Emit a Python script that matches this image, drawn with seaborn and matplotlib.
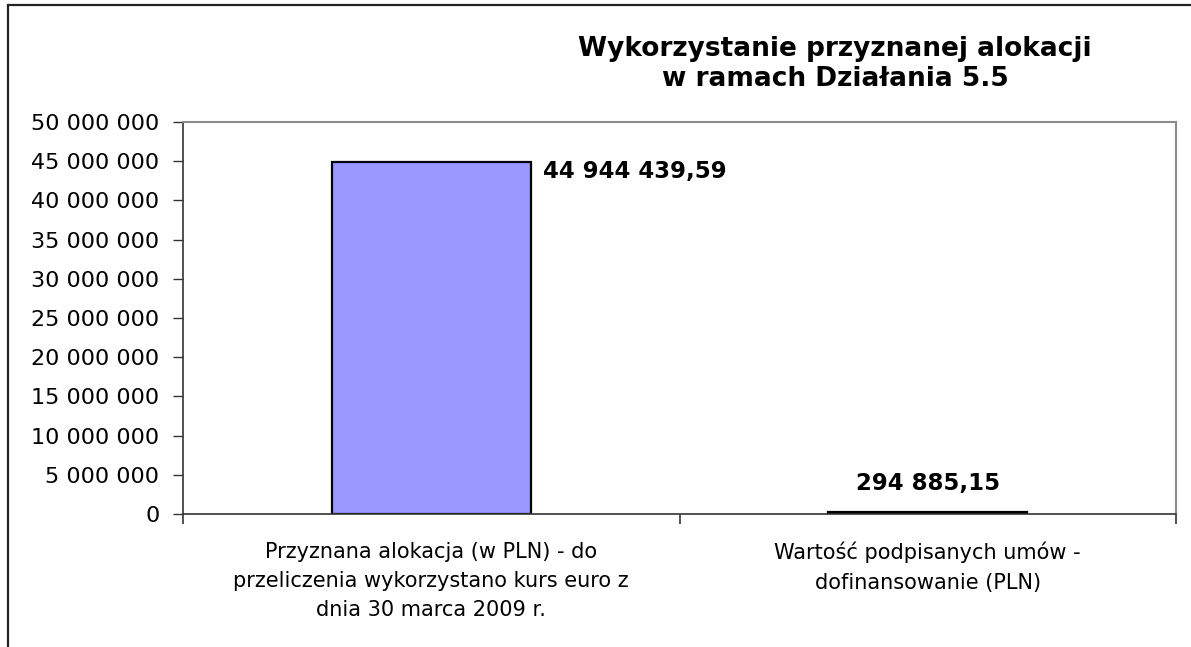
import matplotlib
matplotlib.use("Agg")
import matplotlib.pyplot as plt
import seaborn as sns
import pandas as pd
from matplotlib.patches import Rectangle
from matplotlib.ticker import FixedLocator

categories = [
    "Przyznana alokacja (w PLN) - do\nprzeliczenia wykorzystano kurs euro z\ndnia 30 marca 2009 r.",
    "Wartość podpisanych umów -\ndofinansowanie (PLN)",
]
values = [44944439.59, 294885.15]
value_labels = ["44 944 439,59", "294 885,15"]
yticks = [0, 5000000, 10000000, 15000000, 20000000, 25000000,
          30000000, 35000000, 40000000, 45000000, 50000000]
title = "Wykorzystanie przyznanej alokacji\nw ramach Działania 5.5"

sns.set_theme(style="white")
plt.rcParams['font.family'] = ['DejaVu Sans']

df = pd.DataFrame({"cat": categories, "val": values})

W, H = 1191, 647
fig = plt.figure(figsize=(W / 100, H / 100), dpi=100)
ax = fig.add_axes([183 / W, 1 - 514 / H, (1176 - 183) / W, (514 - 122) / H])

sns.barplot(data=df, x="cat", y="val", color="#9999FF", width=0.40,
            edgecolor="black", linewidth=1.6, ax=ax, saturation=1)

ax.set_xlim(-0.5, 1.5)
ax.set_ylim(0, 50000000)
ax.set_yticks(yticks)
ax.set_yticklabels([f"{v:,}".replace(",", " ") for v in yticks], fontsize=16)
ax.set_xlabel("")
ax.set_ylabel("")
ax.tick_params(axis="x", which="major", length=0, pad=20, labelsize=15)
ax.xaxis.set_minor_locator(FixedLocator([-0.5, 0.5, 1.5]))
ax.tick_params(axis="x", which="minor", bottom=True, length=7, width=1.2, color="#333333")
ax.tick_params(axis="y", which="major", left=True, length=7, width=1.0, color="#333333", pad=10)
for lbl in ax.get_xticklabels():
    lbl.set_linespacing(1.58)
    lbl.set_color("#000000")
for lbl in ax.get_yticklabels():
    lbl.set_color("#000000")

for side in ["left", "bottom"]:
    ax.spines[side].set_color("#333333")
    ax.spines[side].set_linewidth(1.2)
for side in ["top", "right"]:
    ax.spines[side].set_color("#8c8c8c")
    ax.spines[side].set_linewidth(1.5)
ax.grid(False)

# value labels
bars = ax.patches
b0 = bars[0]
ax.annotate(value_labels[0], xy=(b0.get_x() + b0.get_width(), values[0]),
            xytext=(9, -7), textcoords="offset points", ha="left", va="center",
            fontsize=16.5, fontweight="bold", color="black")
b1 = bars[1]
ax.annotate(value_labels[1], xy=(b1.get_x() + b1.get_width() / 2, values[1]),
            xytext=(0, 20), textcoords="offset points", ha="center", va="center",
            fontsize=16.5, fontweight="bold", color="black")

fig.text(835 / W, 1 - 64 / H, title, ha="center", va="center", fontsize=19,
         fontweight="bold", linespacing=1.2, color="black")

# outer frame
fig.patches.append(Rectangle((8 / W, -0.1), 1.2, 1.1 - 5 / H, transform=fig.transFigure,
                             fill=False, edgecolor="#222222", linewidth=1.6))

fig.savefig("out.png", dpi=100)
